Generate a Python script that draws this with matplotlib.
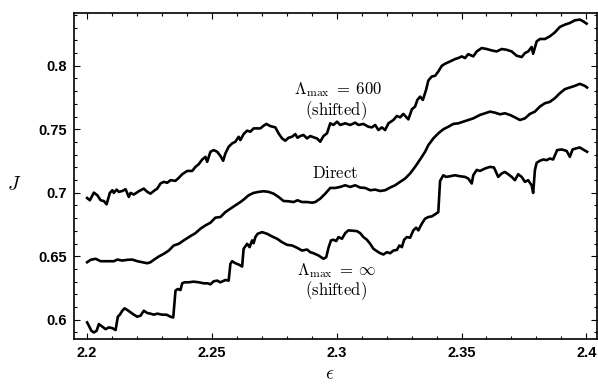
import matplotlib
matplotlib.use("Agg")
import matplotlib.pyplot as plt
from matplotlib.ticker import MultipleLocator

# Lambda_max = 600 (shifted)
eps_600 = [2.2000, 2.2011, 2.2027, 2.2041, 2.2054, 2.2067, 2.2078, 2.2091, 2.2101, 2.2107,
           2.2118, 2.2127, 2.2141, 2.2154, 2.2167, 2.2174, 2.2187, 2.2207, 2.2227, 2.2241,
           2.2254, 2.2267, 2.2281, 2.2294, 2.2307, 2.2321, 2.2334, 2.2354, 2.2367, 2.2381,
           2.2401, 2.2421, 2.2434, 2.2447, 2.2461, 2.2474, 2.2481, 2.2494, 2.2507, 2.2521,
           2.2534, 2.2545, 2.2554, 2.2567, 2.2581, 2.2594, 2.2607, 2.2614, 2.2627, 2.2641,
           2.2654, 2.2667, 2.2681, 2.2694, 2.2707, 2.2718, 2.2734, 2.2754, 2.2767, 2.2781,
           2.2794, 2.2807, 2.2821, 2.2834, 2.2843, 2.2854, 2.2867, 2.2881, 2.2894, 2.2907,
           2.2921, 2.2934, 2.2947, 2.2961, 2.2974, 2.2987, 2.3001, 2.3014, 2.3034, 2.3054,
           2.3074, 2.3087, 2.3107, 2.3127, 2.3141, 2.3154, 2.3167, 2.3181, 2.3194, 2.3207,
           2.3227, 2.3241, 2.3254, 2.3267, 2.3287, 2.3301, 2.3314, 2.3323, 2.3334, 2.3345,
           2.3358, 2.3367, 2.3381, 2.3394, 2.3407, 2.3421, 2.3434, 2.3454, 2.3474, 2.3487,
           2.3501, 2.3514, 2.3527, 2.3547, 2.3561, 2.3581, 2.3601, 2.3621, 2.3641, 2.3661,
           2.3681, 2.3701, 2.3721, 2.3741, 2.3754, 2.3767, 2.3781, 2.3787, 2.3801, 2.3814,
           2.3834, 2.3854, 2.3874, 2.3894, 2.3914, 2.3934, 2.3954, 2.3974, 2.3987, 2.4001]
J_600 = [0.6959, 0.6941, 0.7001, 0.6980, 0.6941, 0.6935, 0.6909, 0.6999, 0.7020, 0.6999,
         0.7025, 0.7007, 0.7014, 0.7028, 0.6967, 0.6999, 0.6986, 0.7012, 0.7033, 0.7007,
         0.6993, 0.7014, 0.7033, 0.7073, 0.7086, 0.7079, 0.7099, 0.7094, 0.7117, 0.7146,
         0.7172, 0.7172, 0.7204, 0.7225, 0.7262, 0.7283, 0.7244, 0.7323, 0.7336, 0.7323,
         0.7290, 0.7252, 0.7310, 0.7362, 0.7389, 0.7402, 0.7441, 0.7415, 0.7462, 0.7489,
         0.7481, 0.7507, 0.7507, 0.7507, 0.7528, 0.7542, 0.7525, 0.7515, 0.7468, 0.7428,
         0.7410, 0.7433, 0.7441, 0.7462, 0.7433, 0.7447, 0.7455, 0.7428, 0.7447, 0.7437,
         0.7428, 0.7402, 0.7447, 0.7468, 0.7547, 0.7534, 0.7560, 0.7534, 0.7547, 0.7534,
         0.7552, 0.7534, 0.7542, 0.7520, 0.7515, 0.7534, 0.7494, 0.7515, 0.7494, 0.7547,
         0.7573, 0.7605, 0.7594, 0.7621, 0.7578, 0.7657, 0.7679, 0.7731, 0.7757, 0.7731,
         0.7810, 0.7884, 0.7916, 0.7921, 0.7955, 0.8000, 0.8016, 0.8034, 0.8053, 0.8061,
         0.8074, 0.8061, 0.8092, 0.8074, 0.8113, 0.8140, 0.8132, 0.8121, 0.8113, 0.8132,
         0.8126, 0.8113, 0.8079, 0.8069, 0.8100, 0.8113, 0.8148, 0.8095, 0.8192, 0.8211,
         0.8211, 0.8232, 0.8263, 0.8306, 0.8324, 0.8337, 0.8358, 0.8364, 0.8351, 0.8332]

# Direct
eps_direct = [2.2000, 2.2014, 2.2034, 2.2054, 2.2081, 2.2107, 2.2121, 2.2141, 2.2161, 2.2181,
              2.2201, 2.2221, 2.2241, 2.2254, 2.2267, 2.2287, 2.2307, 2.2327, 2.2347, 2.2367,
              2.2387, 2.2414, 2.2434, 2.2454, 2.2474, 2.2494, 2.2514, 2.2534, 2.2554, 2.2574,
              2.2594, 2.2614, 2.2627, 2.2647, 2.2667, 2.2687, 2.2707, 2.2727, 2.2747, 2.2767,
              2.2787, 2.2807, 2.2827, 2.2843, 2.2861, 2.2881, 2.2901, 2.2914, 2.2934, 2.2954,
              2.2974, 2.2994, 2.3014, 2.3034, 2.3054, 2.3074, 2.3094, 2.3114, 2.3134, 2.3154,
              2.3174, 2.3194, 2.3214, 2.3234, 2.3254, 2.3274, 2.3294, 2.3314, 2.3334, 2.3354,
              2.3367, 2.3387, 2.3407, 2.3427, 2.3447, 2.3467, 2.3487, 2.3507, 2.3527, 2.3547,
              2.3574, 2.3594, 2.3614, 2.3634, 2.3654, 2.3674, 2.3694, 2.3714, 2.3734, 2.3754,
              2.3774, 2.3794, 2.3814, 2.3834, 2.3854, 2.3874, 2.3894, 2.3914, 2.3934, 2.3954,
              2.3974, 2.3994, 2.4003]
J_direct = [0.6453, 0.6472, 0.6480, 0.6461, 0.6461, 0.6461, 0.6474, 0.6466, 0.6472, 0.6474,
            0.6461, 0.6453, 0.6445, 0.6453, 0.6472, 0.6498, 0.6519, 0.6545, 0.6585, 0.6598,
            0.6625, 0.6659, 0.6682, 0.6717, 0.6743, 0.6764, 0.6804, 0.6809, 0.6848, 0.6875,
            0.6901, 0.6927, 0.6946, 0.6980, 0.6999, 0.7007, 0.7012, 0.7007, 0.6993, 0.6967,
            0.6935, 0.6933, 0.6927, 0.6941, 0.6927, 0.6927, 0.6922, 0.6927, 0.6954, 0.6993,
            0.7038, 0.7038, 0.7046, 0.7059, 0.7046, 0.7059, 0.7041, 0.7038, 0.7020, 0.7025,
            0.7014, 0.7020, 0.7041, 0.7059, 0.7086, 0.7112, 0.7152, 0.7204, 0.7262, 0.7323,
            0.7375, 0.7428, 0.7468, 0.7500, 0.7520, 0.7542, 0.7547, 0.7560, 0.7573, 0.7586,
            0.7613, 0.7626, 0.7639, 0.7631, 0.7618, 0.7626, 0.7613, 0.7594, 0.7573, 0.7586,
            0.7621, 0.7639, 0.7679, 0.7705, 0.7716, 0.7745, 0.7784, 0.7816, 0.7829, 0.7842,
            0.7858, 0.7842, 0.7829]

# Lambda_max = infinity (shifted)
eps_inf = [2.2000, 2.2007, 2.2017, 2.2027, 2.2038, 2.2047, 2.2061, 2.2074, 2.2087, 2.2101,
           2.2114, 2.2123, 2.2131, 2.2141, 2.2150, 2.2161, 2.2174, 2.2187, 2.2201, 2.2214,
           2.2227, 2.2241, 2.2254, 2.2267, 2.2281, 2.2301, 2.2318, 2.2334, 2.2345, 2.2354,
           2.2363, 2.2374, 2.2381, 2.2390, 2.2407, 2.2427, 2.2447, 2.2467, 2.2483, 2.2494,
           2.2507, 2.2521, 2.2534, 2.2554, 2.2567, 2.2574, 2.2581, 2.2594, 2.2607, 2.2621,
           2.2627, 2.2641, 2.2651, 2.2661, 2.2667, 2.2674, 2.2683, 2.2701, 2.2721, 2.2741,
           2.2761, 2.2781, 2.2801, 2.2821, 2.2841, 2.2861, 2.2881, 2.2894, 2.2907, 2.2927,
           2.2947, 2.2958, 2.2967, 2.2977, 2.2987, 2.2998, 2.3007, 2.3021, 2.3034, 2.3047,
           2.3081, 2.3094, 2.3107, 2.3121, 2.3134, 2.3147, 2.3161, 2.3174, 2.3187, 2.3201,
           2.3214, 2.3227, 2.3241, 2.3251, 2.3261, 2.3270, 2.3281, 2.3294, 2.3307, 2.3318,
           2.3327, 2.3341, 2.3354, 2.3367, 2.3381, 2.3394, 2.3407, 2.3414, 2.3427, 2.3438,
           2.3454, 2.3474, 2.3494, 2.3514, 2.3527, 2.3541, 2.3547, 2.3561, 2.3574, 2.3594,
           2.3614, 2.3630, 2.3647, 2.3661, 2.3674, 2.3687, 2.3701, 2.3714, 2.3727, 2.3741,
           2.3754, 2.3767, 2.3781, 2.3787, 2.3794, 2.3801, 2.3814, 2.3827, 2.3841, 2.3854,
           2.3867, 2.3883, 2.3901, 2.3921, 2.3934, 2.3945, 2.3958, 2.3974, 2.3987, 2.4003]
J_inf = [0.5979, 0.5953, 0.5913, 0.5900, 0.5913, 0.5966, 0.5945, 0.5926, 0.5940, 0.5934,
         0.5919, 0.6024, 0.6040, 0.6071, 0.6090, 0.6077, 0.6058, 0.6040, 0.6024, 0.6032,
         0.6071, 0.6053, 0.6048, 0.6040, 0.6048, 0.6040, 0.6040, 0.6024, 0.6018, 0.6229,
         0.6242, 0.6234, 0.6287, 0.6295, 0.6295, 0.6300, 0.6295, 0.6287, 0.6287, 0.6279,
         0.6303, 0.6308, 0.6295, 0.6313, 0.6308, 0.6440, 0.6461, 0.6445, 0.6435, 0.6419,
         0.6559, 0.6598, 0.6572, 0.6625, 0.6603, 0.6651, 0.6677, 0.6690, 0.6677, 0.6656,
         0.6638, 0.6611, 0.6590, 0.6585, 0.6567, 0.6545, 0.6553, 0.6532, 0.6524, 0.6506,
         0.6480, 0.6493, 0.6567, 0.6625, 0.6630, 0.6620, 0.6651, 0.6638, 0.6682, 0.6704,
         0.6698, 0.6682, 0.6651, 0.6630, 0.6598, 0.6559, 0.6540, 0.6524, 0.6514, 0.6532,
         0.6524, 0.6545, 0.6550, 0.6585, 0.6572, 0.6630, 0.6651, 0.6646, 0.6704, 0.6725,
         0.6704, 0.6757, 0.6796, 0.6809, 0.6814, 0.6830, 0.6848, 0.7093, 0.7138, 0.7125,
         0.7130, 0.7138, 0.7130, 0.7125, 0.7112, 0.7073, 0.7138, 0.7180, 0.7172, 0.7191,
         0.7204, 0.7199, 0.7125, 0.7152, 0.7164, 0.7146, 0.7125, 0.7099, 0.7146, 0.7125,
         0.7086, 0.7099, 0.7059, 0.6999, 0.7178, 0.7236, 0.7252, 0.7262, 0.7257, 0.7270,
         0.7262, 0.7336, 0.7341, 0.7330, 0.7283, 0.7341, 0.7349, 0.7357, 0.7341, 0.7323]

xticks = [2.2, 2.25, 2.3, 2.35, 2.4]
xtick_labels = ["2.2", "2.25", "2.3", "2.35", "2.4"]
yticks = [0.6, 0.65, 0.7, 0.75, 0.8]
ytick_labels = ["0.6", "0.65", "0.7", "0.75", "0.8"]

plt.rcParams['mathtext.fontset'] = 'cm'

fig = plt.figure(figsize=(5.98, 3.85), dpi=100)
ax = fig.add_axes([0.124, 0.12, 0.874, 0.845])

for xs, ys in [(eps_600, J_600), (eps_direct, J_direct), (eps_inf, J_inf)]:
    ax.plot(xs, ys, color='black', lw=1.9, solid_joinstyle='round')

ax.set_xlim(2.1948, 2.4042)
ax.set_ylim(0.585, 0.8412)

ax.set_xticks(xticks)
ax.set_xticklabels(xtick_labels)
ax.set_yticks(yticks)
ax.set_yticklabels(ytick_labels)
ax.xaxis.set_minor_locator(MultipleLocator(0.01))
ax.yaxis.set_minor_locator(MultipleLocator(0.01))
ax.tick_params(which='both', direction='in', top=True, right=True, width=0.8)
ax.tick_params(which='major', length=4.5, pad=5)
ax.tick_params(which='minor', length=2.5)
for lab in ax.get_xticklabels() + ax.get_yticklabels():
    lab.set_family('Liberation Sans')
    lab.set_fontweight('bold')
    lab.set_fontsize(10.5)
for sp in ax.spines.values():
    sp.set_linewidth(1.2)

# curve labels
ax.text(2.3007, 0.7815, r'$\Lambda_{\max}\;=\;600$', fontsize=12, ha='center', va='center')
ax.text(2.2999, 0.7645, r'$\mathrm{(shifted)}$', fontsize=12, ha='center', va='center')
ax.text(2.2992, 0.7155, r'$\mathrm{Direct}$', fontsize=12, ha='center', va='center')
ax.text(2.3001, 0.6390, r'$\Lambda_{\max}\;=\;\infty$', fontsize=12, ha='center', va='center')
ax.text(2.2999, 0.6227, r'$\mathrm{(shifted)}$', fontsize=12, ha='center', va='center')

fig.text(0.023, 0.52, r'$J$', fontsize=14, ha='center', va='center')
fig.text(0.552, 0.004, r'$\epsilon$', fontsize=14, ha='center', va='bottom')

plt.savefig('out.png', dpi=100)
